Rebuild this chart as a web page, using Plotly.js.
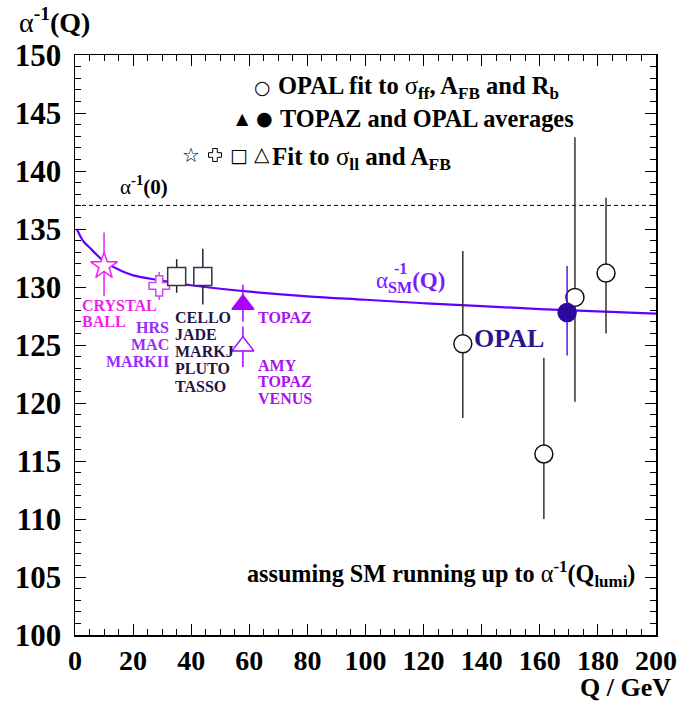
<!DOCTYPE html>
<html>
<head>
<meta charset="utf-8">
<script src="https://cdn.plot.ly/plotly-3.0.1.min.js"></script>
<style>
html,body{margin:0;padding:0;background:#fff;}
#chart{width:678px;height:702px;}
</style>
</head>
<body>
<div id="chart"></div>
<script>
// ---- data ----
// Standard Model running alpha^-1(Q) curve
const smQ     = [0.5, 1, 2, 3, 5, 7, 10, 15, 20, 30, 40, 50, 60, 80, 100, 120, 140, 160, 180, 200];
const smAlpha = [135.0, 134.8, 134.3, 133.9, 133.4, 132.9, 132.2, 131.5, 131.0, 130.55, 130.15, 129.85, 129.6, 129.2, 128.9, 128.6, 128.35, 128.1, 127.9, 127.7];
// alpha^-1(0)
const alpha0Q = [0, 200];
const alpha0  = [137.036, 137.036];

// CRYSTAL BALL (star)
const cbQ = [10];  const cbA = [131.8];  const cbUp = [2.9]; const cbDn = [2.6];
// HRS, MAC, MARKII (cross)
const hrsQ = [29]; const hrsA = [130.1]; const hrsUp = [1.2]; const hrsDn = [1.2];
// CELLO, JADE, MARKJ, PLUTO, TASSO (squares)
const petraQ = [35, 44]; const petraA = [130.9, 130.9]; const petraUp = [1.5, 2.4]; const petraDn = [1.4, 2.4];
// TOPAZ average (filled triangle)
const topazQ = [57.8]; const topazA = [128.5]; const topazUp = [1.7]; const topazDn = [1.5];
// AMY, TOPAZ, VENUS (open triangle)
const tristanQ = [57.8]; const tristanA = [124.9]; const tristanUp = [1.7]; const tristanDn = [1.8];
// OPAL fits to sigma_ff, A_FB, R_b (open circles)
const opalQ = [133.5, 161.4, 172.1, 182.8];
const opalA = [125.1, 115.6, 129.1, 131.2];
const opalUp = [8.0, 8.3, 13.8, 6.5];
const opalDn = [6.4, 5.6, 9.0, 5.2];
// OPAL average (filled circle)
const opalAvgQ = [169.4]; const opalAvgA = [127.8]; const opalAvgUp = [4.0]; const opalAvgDn = [3.7];

// axis ticks
const xTickVals = [0,20,40,60,80,100,120,140,160,180,200];
const yTickVals = [100,105,110,115,120,125,130,135,140,145,150];

// experiment label lines
const cbLines = ['CRYSTAL', 'BALL'];
const hrsLines = ['HRS', 'MAC', 'MARKII'];
const petraLines = ['CELLO', 'JADE', 'MARKJ', 'PLUTO', 'TASSO'];
const tristanLines = ['AMY', 'TOPAZ', 'VENUS'];

// ---- styles ----
const SERIF = 'Liberation Serif, Times New Roman, serif';
const SYM = 'DejaVu Sans';
function pts(x, y, up, dn, symbol, fill, lineCol, size, errCol){
  return {
    type:'scatter', mode:'markers', x:x, y:y,
    marker:{symbol:symbol, size:size, color:fill, line:{color:lineCol, width:1.5}},
    error_y:{type:'data', array:up, arrayminus:dn, symmetric:false, color:errCol, thickness:1.5, width:0},
    hoverinfo:'skip', showlegend:false, cliponaxis:false
  };
}

const traces = [
  {type:'scatter', mode:'lines', x:smQ, y:smAlpha, line:{color:'#6200ff', width:2.2, shape:'spline'}, hoverinfo:'skip', showlegend:false},
  {type:'scatter', mode:'lines', x:alpha0Q, y:alpha0, line:{color:'#000', width:1, dash:'4px,3px'}, hoverinfo:'skip', showlegend:false},
  pts(cbQ, cbA, cbUp, cbDn, 'star', '#fff', '#ee22ee', 20, '#ee22ee'),
  pts(hrsQ, hrsA, hrsUp, hrsDn, 'cross', '#fff', '#cc44ee', 17, '#cc44ee'),
  pts(petraQ, petraA, petraUp, petraDn, 'square', '#fff', '#333344', 18, '#222233'),
  pts(topazQ, topazA, topazUp, topazDn, 'triangle-up', '#aa00ff', '#aa00ff', 19, '#aa00ff'),
  pts(tristanQ, tristanA, tristanUp, tristanDn, 'triangle-up', '#fff', '#aa00ff', 19, '#aa00ff'),
  pts(opalQ, opalA, opalUp, opalDn, 'circle', '#fff', '#111', 18, '#333'),
  pts(opalAvgQ, opalAvgA, opalAvgUp, opalAvgDn, 'circle', '#2a0a9e', '#2a0a9e', 18, '#5a10ff')
];

const L=75, R=656, T=55, B=635;
const px = v => (v-L)/(R-L);
const py = v => (B-v)/(B-T);
function ann(x, y, text, size, color, xanchor, family){
  return {xref:'paper', yref:'paper', x:px(x), y:py(y), text:text, showarrow:false,
    xanchor:xanchor||'left', yanchor:'middle', align:xanchor||'left',
    font:{family:family||SERIF, size:size, color:color||'#000'}};
}

const annotations = [
  ann(17, 20, 'α<sup><b>-1</b></sup><b>(Q)</b>', 28, '#000', 'left'),
  ann(673, 687, '<b>Q / GeV</b>', 26, '#000', 'right'),
  // legend
  ann(262, 87, '○', 19, '#000', 'center', SYM),
  ann(276, 88, '<b>OPAL fit to </b>σ<sub><b>ff</b></sub><b>, A<sub>FB</sub> and R<sub>b</sub></b>', 24.5, '#000', 'left'),
  ann(242, 118, '▲', 16, '#000', 'center', SYM),
  ann(264, 118, '●', 19, '#000', 'center', SYM),
  ann(278, 118, '<b>TOPAZ and OPAL averages</b>', 24.3, '#000', 'left'),
  ann(191, 155, '☆', 20, '#000', 'center', SYM),
  ann(239, 155, '□', 19, '#000', 'center', SYM),
  ann(262, 154, '△', 20, '#000', 'center', SYM),
  ann(270, 158, '<b>Fit to </b>σ<sub><b>ll</b></sub><b> and A<sub>FB</sub></b>', 25, '#000', 'left'),
  // labels
  ann(118, 186, 'α<sup><b>-1</b></sup><b>(0)</b>', 21, '#000', 'left'),
  ann(374, 282, 'α<sub><b>SM</b></sub><b>(Q)</b>', 23, '#7a1aff', 'left'),
  ann(392, 268, '<b>-1</b>', 16, '#7a1aff', 'left'),
  ann(472, 338, '<b>OPAL</b>', 26, '#2a1590', 'left'),
  ann(256, 317, '<b>TOPAZ</b>', 16, '#aa11ee', 'left'),
  ann(637, 574, '<b>assuming SM running up to </b>α<sup><b>-1</b></sup><b>(Q<sub>lumi</sub>)</b>', 24.2, '#000', 'right')
];
cbLines.forEach((t,i) => annotations.push(ann(80, 305 + i*16, '<b>'+t+'</b>', 16, '#ee22ee', 'left')));
hrsLines.forEach((t,i) => annotations.push(ann(171, 327 + i*17, '<b>'+t+'</b>', 16, '#9a2aff', 'right')));
petraLines.forEach((t,i) => annotations.push(ann(173, 317 + i*17.3, '<b>'+t+'</b>', 16, '#231447', 'left')));
tristanLines.forEach((t,i) => annotations.push(ann(256, 365 + i*16.5, '<b>'+t+'</b>', 16, '#aa11ee', 'left')));

// outlined Greek cross legend glyph (drawn as a path in paper units)
function crossPath(cx, cy, h, a){
  const P = [[-a,-h],[a,-h],[a,-a],[h,-a],[h,a],[a,a],[a,h],[-a,h],[-a,a],[-h,a],[-h,-a],[-a,-a]];
  return 'M' + P.map(p => px(cx+p[0]).toFixed(5)+','+py(cy+p[1]).toFixed(5)).join(' L') + ' Z';
}
const shapes = [
  {type:'path', xref:'paper', yref:'paper', path:crossPath(215, 155, 6.5, 2.3), line:{color:'#000', width:1}, fillcolor:'rgba(0,0,0,0)'}
];

const axisCommon = {
  showgrid:false, zeroline:false, showline:true, linecolor:'#000', linewidth:1.5,
  mirror:'allticks', ticks:'inside', ticklen:11, tickwidth:1, tickcolor:'#000'
};

const layout = {
  width:678, height:702,
  margin:{l:75, r:22, t:55, b:67},
  paper_bgcolor:'#fff', plot_bgcolor:'#fff',
  showlegend:false,
  xaxis:Object.assign({}, axisCommon, {range:[0,200], tickvals:xTickVals, ticktext:xTickVals.map(String),
    minor:{dtick:5, ticks:'inside', ticklen:6, tickwidth:1, tickcolor:'#000', showgrid:false}, ticklabelstandoff:0,
    tickfont:{family:SERIF, size:28, color:'#000', weight:'bold'}}),
  yaxis:Object.assign({}, axisCommon, {range:[100,150], tickvals:yTickVals, ticktext:yTickVals.map(String),
    minor:{dtick:1, ticks:'inside', ticklen:6, tickwidth:1, tickcolor:'#000', showgrid:false}, ticklabelstandoff:6,
    tickfont:{family:SERIF, size:31, color:'#000', weight:'bold'}}),
  annotations:annotations,
  shapes:shapes
};

Plotly.newPlot('chart', traces, layout, {staticPlot:true, displayModeBar:false});
</script>
</body>
</html>
